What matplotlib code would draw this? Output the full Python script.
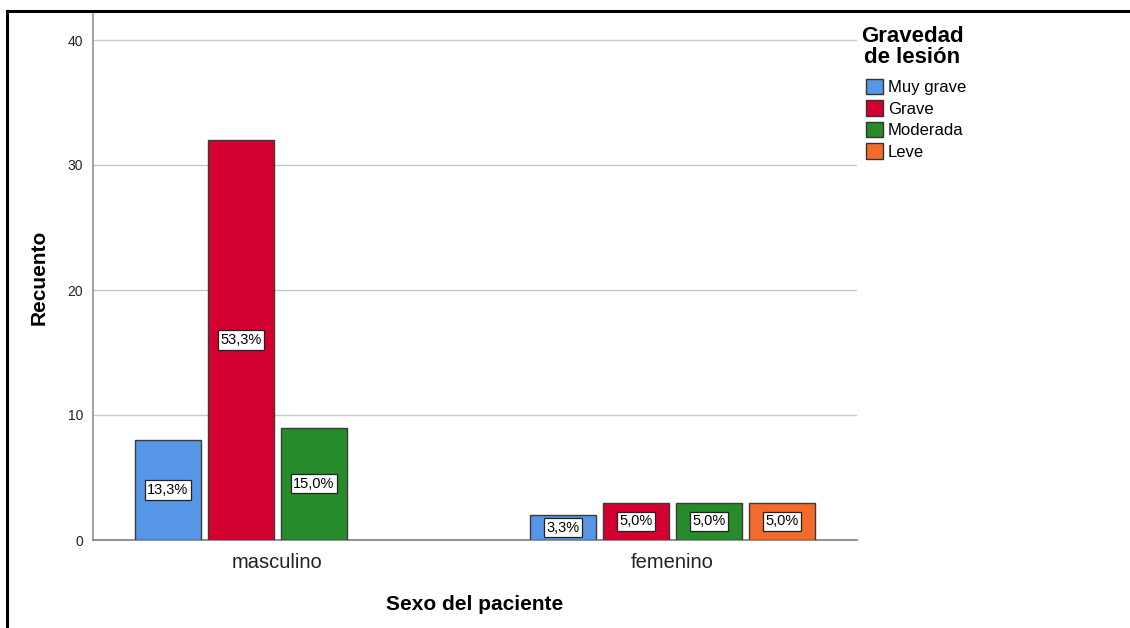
import matplotlib
matplotlib.use('Agg')
import matplotlib.pyplot as plt
from matplotlib.lines import Line2D
from matplotlib.patches import Patch
import numpy as np

plt.rcParams['font.family'] = ['Liberation Sans', 'DejaVu Sans']

# datos
sexo = ['masculino', 'femenino']
gravedad = ['Muy grave', 'Grave', 'Moderada', 'Leve']
recuento = {
    'Muy grave': [8, 2],
    'Grave': [32, 3],
    'Moderada': [9, 3],
    'Leve': [0, 3],
}
porcentaje = {
    'Muy grave': ['13,3%', '3,3%'],
    'Grave': ['53,3%', '5,0%'],
    'Moderada': ['15,0%', '5,0%'],
    'Leve': ['', '5,0%'],
}
colores = ['#5596E6', '#D4002F', '#278A2B', '#F36B2A']

fig = plt.figure(figsize=(11.3, 6.28), dpi=100)
ax = fig.add_axes([93/1130, 88/628, (857-93)/1130, (540-14)/628])

x = np.arange(len(sexo))
slot = 73/395
ancho = 66/395

for i, g in enumerate(gravedad):
    pos = x + (i - 1.5) * slot
    for j in range(len(sexo)):
        v = recuento[g][j]
        if v == 0:
            continue
        ax.bar(pos[j], v, width=ancho, color=colores[i], edgecolor='#3a3a3a',
               linewidth=1, zorder=3)
        ax.text(pos[j], v/2, porcentaje[g][j], ha='center', va='center',
                fontsize=10.5, zorder=4,
                bbox=dict(boxstyle='square,pad=0.18', fc='white', ec='#222222', lw=0.9))

ax.set_xlim(-0.467, 1.467)
ax.set_ylim(0, 42.08)
ax.set_yticks([0, 10, 20, 30, 40])
ax.set_xticks(x)
ax.set_xticklabels(sexo, fontsize=14.5)
ax.tick_params(axis='y', labelsize=10, length=0, pad=7, colors='#222222')
ax.tick_params(axis='x', length=0, pad=9, colors='#222222')
ax.grid(axis='y', color='#c8c8c8', linewidth=1, zorder=0)
for s in ['top', 'right']:
    ax.spines[s].set_visible(False)
ax.spines['left'].set_color('#999999')
ax.spines['bottom'].set_color('#888888')
ax.spines['left'].set_linewidth(1.3)
ax.spines['bottom'].set_linewidth(1.3)

ax.set_ylabel('Recuento', fontsize=15, fontweight='bold', labelpad=14)
ax.set_xlabel('Sexo del paciente', fontsize=15, fontweight='bold', labelpad=17)

# leyenda
fig.text(912/1130, 1 - 47/628, 'Gravedad\nde lesión', ha='center', va='center',
         multialignment='center', fontsize=16, fontweight='bold', linespacing=0.95)
handles = [Patch(facecolor=c, edgecolor='#333333', label=g) for c, g in zip(colores, gravedad)]
fig.legend(handles=handles, loc='upper left', bbox_to_anchor=(866/1130, 1 - 79/628),
           frameon=False, fontsize=12, handlelength=1.0, handleheight=1.05,
           handletextpad=0.3, labelspacing=0.3, borderpad=0, borderaxespad=0)

# marco
fig.add_artist(Line2D([7/1130, 7/1130], [0, 1 - 11/628], color='black', lw=2.2))
fig.add_artist(Line2D([7/1130, 1], [1 - 11/628, 1 - 11/628], color='black', lw=2.2))

fig.savefig('out.png', dpi=100)
